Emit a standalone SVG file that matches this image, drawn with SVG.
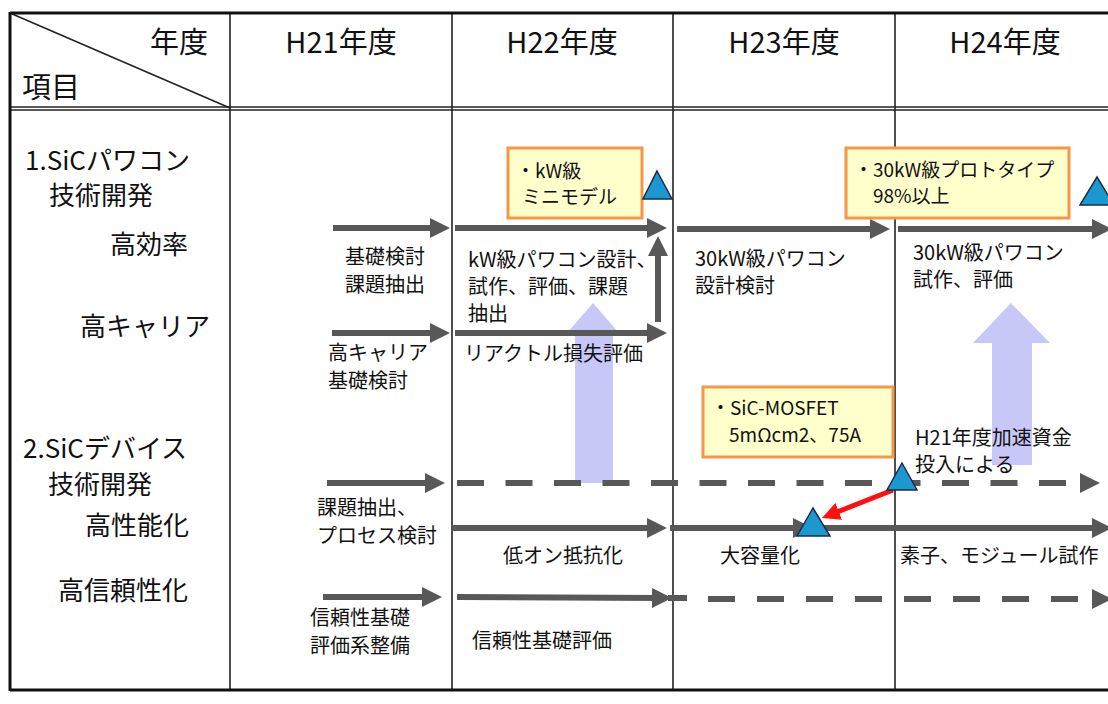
<svg xmlns="http://www.w3.org/2000/svg" width="1108" height="704" viewBox="0 0 1108 704">
<style>
text{font-family:"Noto Sans CJK JP","Noto Sans",sans-serif;fill:#111}
.hd{font-size:29px}
.lb{font-size:26px}
.sm{font-size:20px}
.bx{font-size:19px}
.grid{stroke:#222;stroke-width:1.6;fill:none}
.frame{stroke:#111;stroke-width:3;fill:none}
.ar{stroke:#585858;stroke-width:6;fill:none;marker-end:url(#ah)}
.ln{stroke:#585858;stroke-width:6;fill:none}
.dsA{stroke:#585858;stroke-width:6;fill:none;stroke-dasharray:27 21.5;marker-end:url(#ah)}
.dsB{stroke:#585858;stroke-width:6;fill:none;stroke-dasharray:27 22;marker-end:url(#ah)}
.box{fill:#FFFFCC;stroke:#F79646;stroke-width:3}
.tri{fill:#1B98CF;stroke:#1C2C48;stroke-width:1.5}
.up{fill:#C8C8F8}
</style>
<defs>
<marker id="ah" viewBox="0 0 20 20" refX="10" refY="10" markerWidth="20" markerHeight="20" markerUnits="userSpaceOnUse" orient="auto">
<path d="M0,0 L20,10 L0,20 Z" fill="#585858"/>
</marker>
<marker id="ahr" viewBox="0 0 20 20" refX="8" refY="10" markerWidth="18" markerHeight="18" markerUnits="userSpaceOnUse" orient="auto">
<path d="M0,0 L20,10 L0,20 Z" fill="#FF1010"/>
</marker>
</defs>
<rect width="1108" height="704" fill="#fff"/>

<g id="table">
<line class="grid" x1="10" y1="13" x2="230" y2="108"/>
<line class="grid" x1="230" y1="13" x2="230" y2="690"/>
<line class="grid" x1="452" y1="13" x2="452" y2="690"/>
<line class="grid" x1="673" y1="13" x2="673" y2="690"/>
<line class="grid" x1="895" y1="13" x2="895" y2="690"/>
<line stroke="#222" stroke-width="1.3" x1="10" y1="107" x2="1108" y2="107"/>
<line stroke="#222" stroke-width="1.3" x1="10" y1="110" x2="1108" y2="110"/>
<line class="frame" x1="10" y1="13" x2="1108" y2="13"/>
<line class="frame" x1="10" y1="690" x2="1108" y2="690"/>
<line class="frame" x1="10" y1="12" x2="10" y2="691"/>
</g>

<g id="header">
<text class="hd" x="150" y="53">年度</text>
<text class="hd" x="22" y="98">項目</text>
<text class="hd" x="341" y="53" text-anchor="middle">H21年度</text>
<text class="hd" x="562" y="53" text-anchor="middle">H22年度</text>
<text class="hd" x="784" y="53" text-anchor="middle">H23年度</text>
<text class="hd" x="1005" y="53" text-anchor="middle">H24年度</text>
</g>

<g id="row-labels">
<text class="lb" x="25" y="170">1.SiCパワコン</text>
<text class="lb" x="49" y="205">技術開発</text>
<text class="lb" x="110" y="254">高効率</text>
<text class="lb" x="80" y="336">高キャリア</text>
<text class="lb" x="23" y="458">2.SiCデバイス</text>
<text class="lb" x="48" y="494">技術開発</text>
<text class="lb" x="85" y="535">高性能化</text>
<text class="lb" x="58" y="600">高信頼性化</text>
</g>

<g id="up-arrow-1"><path class="up" d="M593,303 L619,333 L613,333 L613,483 L575,483 L575,333 L567,333 Z"/></g>
<g id="up-arrow-2"><path class="up" d="M1011,303 L1050,343 L1032,343 L1032,465 L992,465 L992,343 L973,343 Z"/></g>

<g id="connectors">
<line class="ar" x1="333" y1="228" x2="440" y2="228"/>
<line class="ar" x1="455" y1="228" x2="657" y2="228"/>
<line class="ar" x1="677" y1="229" x2="880" y2="229"/>
<line class="ar" x1="898" y1="229" x2="1102" y2="229"/>
<line class="ar" x1="332" y1="333" x2="440" y2="333"/>
<line class="ar" x1="455" y1="333" x2="657" y2="333"/>
<line class="ar" x1="658" y1="322" x2="658" y2="246"/>
<line class="ar" x1="327" y1="483" x2="435" y2="483"/>
<line class="dsA" x1="457" y1="483" x2="1090" y2="483"/>
<line class="ar" x1="452" y1="528" x2="657" y2="528"/>
<line class="ar" x1="670" y1="528" x2="803" y2="528"/>
<line class="ar" x1="820" y1="528" x2="1102" y2="528"/>
<line class="ar" x1="323" y1="597" x2="432" y2="597"/>
<line class="ar" x1="457" y1="597" x2="662" y2="598"/>
<line class="ln" x1="668" y1="598" x2="687" y2="598"/>
<line class="dsB" x1="708" y1="599" x2="1102" y2="599"/>
<line stroke="#FF1010" stroke-width="5" fill="none" marker-end="url(#ahr)" x1="893" y1="490" x2="832" y2="514"/>
</g>

<g id="labels">
<text class="sm" x="345" y="264">基礎検討</text>
<text class="sm" x="345" y="292">課題抽出</text>
<text class="sm" x="468" y="267">kW級パワコン設計、</text>
<text class="sm" x="468" y="294">試作、評価、課題</text>
<text class="sm" x="468" y="321">抽出</text>
<text class="sm" x="328" y="360">高キャリア</text>
<text class="sm" x="328" y="388">基礎検討</text>
<text class="sm" x="464" y="361">リアクトル損失評価</text>
<text class="sm" x="695" y="266">30kW級パワコン</text>
<text class="sm" x="695" y="293">設計検討</text>
<text class="sm" x="913" y="260">30kW級パワコン</text>
<text class="sm" x="913" y="287">試作、評価</text>
<text class="sm" x="915" y="445">H21年度加速資金</text>
<text class="sm" x="915" y="472">投入による</text>
<text class="sm" x="317" y="515">課題抽出、</text>
<text class="sm" x="317" y="543">プロセス検討</text>
<text class="sm" x="503" y="563">低オン抵抗化</text>
<text class="sm" x="720" y="563">大容量化</text>
<text class="sm" x="900" y="563">素子、モジュール試作</text>
<text class="sm" x="310" y="625">信頼性基礎</text>
<text class="sm" x="310" y="653">評価系整備</text>
<text class="sm" x="472" y="648">信頼性基礎評価</text>
</g>

<g id="box-kw">
<rect class="box" x="508" y="148" width="134" height="70"/>
<text class="bx" x="516" y="178">・kW級</text>
<text class="bx" x="522" y="204">ミニモデル</text>
</g>
<g id="box-30kw">
<rect class="box" x="846" y="148" width="223" height="70"/>
<text class="bx" x="854" y="177">・30kW級プロトタイプ</text>
<text class="bx" x="873" y="203">98%以上</text>
</g>
<g id="box-mosfet">
<rect class="box" x="703" y="387" width="190" height="70"/>
<text class="bx" x="711" y="415">・SiC-MOSFET</text>
<text class="bx" x="729" y="442">5mΩcm2、75A</text>
</g>

<g id="tri-1"><path class="tri" d="M657,171 L672,199 L643,199 Z"/></g>
<g id="tri-2"><path class="tri" d="M1097,177 L1114,205 L1080,205 Z"/></g>
<g id="tri-3"><path class="tri" d="M902,463 L917,490 L887,490 Z"/></g>
<g id="tri-4"><path class="tri" d="M813,508 L830,536 L797,536 Z"/></g>
</svg>
